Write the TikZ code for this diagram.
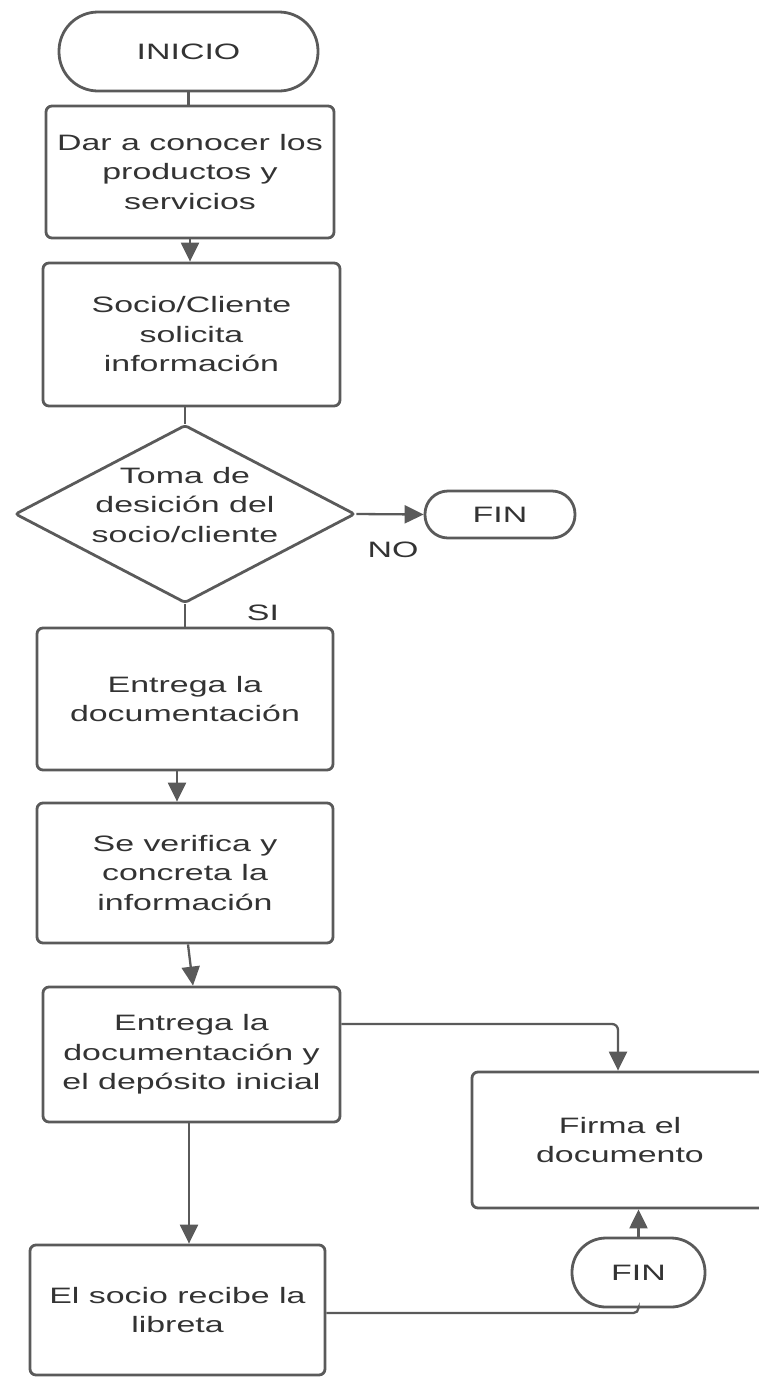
\documentclass[tikz,border=0pt]{standalone}
\usepackage{fontspec}
\setmainfont{Liberation Sans}[FakeStretch=1.52]
\usetikzlibrary{arrows.meta,shapes.geometric}
\definecolor{ln}{HTML}{5A5A5A}
\definecolor{tx}{HTML}{333333}
\begin{document}
\begin{tikzpicture}[x=1pt,y=-1pt,
  every node/.style={text=tx, font=\fontsize{22.3pt}{29.5pt}\selectfont},
  box/.style={draw=ln, line width=2.8pt, rounded corners=6pt, align=center, inner sep=0pt},
  term/.style={draw=ln, line width=2.8pt, align=center, inner sep=0pt},
  con/.style={draw=ln, line width=2.3pt},
  arr/.style={con, -{Triangle[length=19pt,width=18pt]}},
]
\useasboundingbox (0,0) rectangle (759,1377);
\clip (0,0) rectangle (759,1377);

\node[term, minimum width=259pt, minimum height=79pt, rounded corners=39pt] (ini) at (188.5,51.5) {INICIO};
\node[box, minimum width=288pt, minimum height=132pt] (b1) at (190,172) {Dar a conocer los\\productos y\\servicios};
\node[box, minimum width=297pt, minimum height=143pt] (b2) at (191.5,334.5) {Socio/Cliente\\solicita\\información};
\node[draw=ln, line width=2.8pt, diamond, minimum width=340pt, minimum height=178pt, inner sep=0pt, rounded corners=3pt] (d) at (185,514) {};
\node[align=center] (dt) at (185,505) {Toma de\\desición del\\socio/cliente};
\node[term, minimum width=150pt, minimum height=47pt, rounded corners=23pt] (f1) at (500,514.5) {FIN};
\node (no) at (393,550) {NO};
\node (si) at (263,613) {SI};
\node[box, minimum width=296pt, minimum height=142pt] (b3) at (185,699) {Entrega la\\documentación};
\node[box, minimum width=296pt, minimum height=140pt] (b4) at (185,873) {Se verifica y\\concreta la\\información};
\node[box, minimum width=297pt, minimum height=135pt] (b5) at (191.5,1054.5) {Entrega la\\documentación y\\el depósito inicial};
\node[box, minimum width=296pt, minimum height=136pt] (fi) at (620,1140) {Firma el\\documento};
\node[term, minimum width=133pt, minimum height=69pt, rounded corners=34pt] (f2) at (638.5,1272.5) {FIN};
\node[box, minimum width=295pt, minimum height=130pt] (b6) at (177.5,1310) {El socio recibe la\\libreta};

\draw[con] (ini.south) -- (ini.south |- b1.north);
\draw[arr] (b1.south) -- (b1.south |- b2.north);
\draw[con] (d.north |- b2.south) -- (d.north);
\draw[arr] (d.east) -- (f1.west);
\draw[con] (d.south) -- (d.south |- b3.north);
\draw[arr] ([xshift=-8pt]b3.south) -- ([xshift=-8pt]b3.south |- b4.north);
\draw[arr] ([xshift=3pt]b4.south) -- ([xshift=1.5pt]b5.north);
\draw[arr, rounded corners=6pt] ([yshift=30.5pt]b5.east) -| ([xshift=-2pt]fi.north);
\draw[arr] ([xshift=-2.5pt]b5.south) -- ([xshift=-2.5pt]b5.south |- b6.north);
\draw[con, rounded corners=5pt] ([yshift=-3pt]b6.east) -| (f2.south);
\draw[arr] (f2.north) -- (f2.north |- fi.south);
\end{tikzpicture}
\end{document}
